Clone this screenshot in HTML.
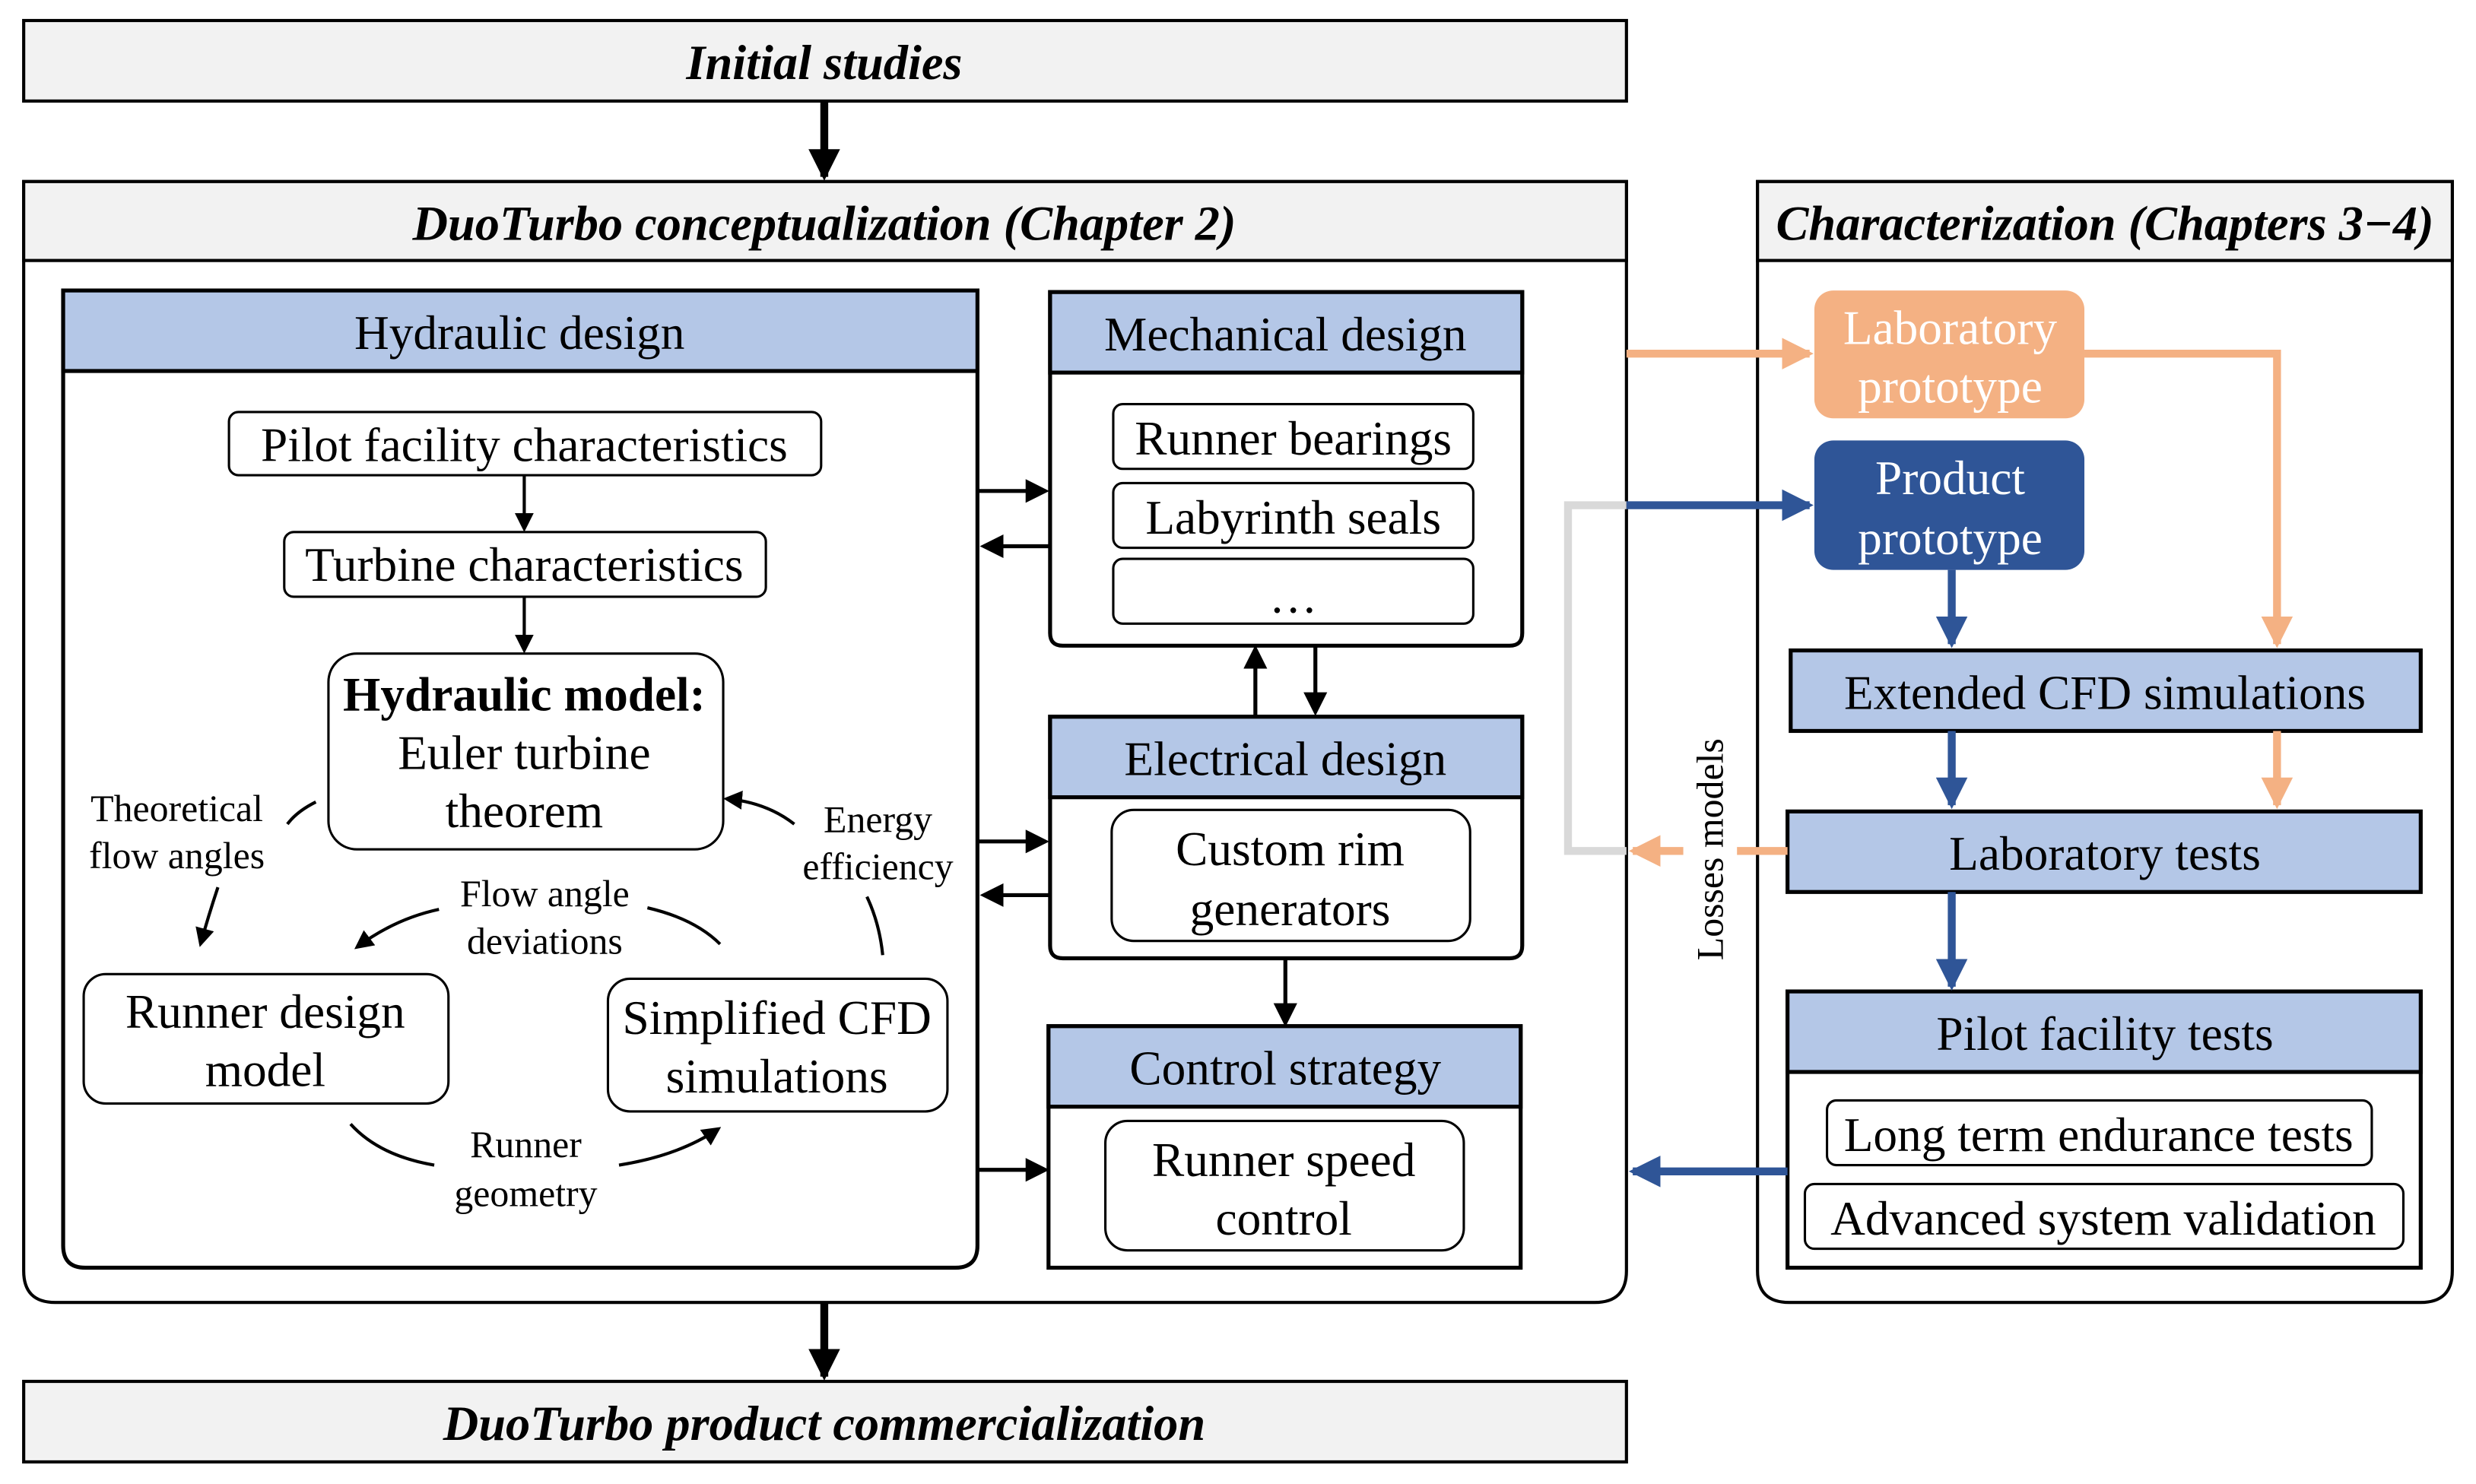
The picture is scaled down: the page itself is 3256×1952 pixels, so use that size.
<!DOCTYPE html>
<html><head><meta charset="utf-8"><style>
html,body{margin:0;padding:0;background:#fff}
svg{display:block}
text{font-family:"Liberation Serif","Times New Roman",serif;fill:#000}
</style></head><body>
<svg width="3256" height="1952" viewBox="0 0 1568 940" preserveAspectRatio="none" xmlns="http://www.w3.org/2000/svg" font-family="Liberation Serif, serif">
<defs>
<marker id="ab" markerWidth="6" markerHeight="6" refX="5" refY="3" orient="auto" markerUnits="strokeWidth"><path d="M0,0 L6,3 L0,6 z" fill="#000"/></marker>
<marker id="abt" markerWidth="4" markerHeight="4" refX="3.5" refY="2" orient="auto" markerUnits="strokeWidth"><path d="M0,0 L4,2 L0,4 z" fill="#000"/></marker>
<marker id="ao" markerWidth="4" markerHeight="4" refX="3.5" refY="2" orient="auto" markerUnits="strokeWidth"><path d="M0,0 L4,2 L0,4 z" fill="#f4b183"/></marker>
<marker id="abl" markerWidth="4" markerHeight="4" refX="3.5" refY="2" orient="auto" markerUnits="strokeWidth"><path d="M0,0 L4,2 L0,4 z" fill="#2f5597"/></marker>
</defs>

<rect x="15" y="13" width="1015" height="51" fill="#f2f2f2" stroke="#000" stroke-width="2"/>
<text x="522" y="50" font-size="31" font-style="italic" font-weight="bold" text-anchor="middle">Initial studies</text>
<line x1="522" y1="64" x2="522" y2="112" stroke="#000" stroke-width="5" marker-end="url(#abt)"/>

<path d="M15,115 H1030 V805 Q1030,825 1010,825 H35 Q15,825 15,805 Z" fill="#fff" stroke="#000" stroke-width="2"/>
<rect x="15" y="115" width="1015" height="50" fill="#f2f2f2" stroke="#000" stroke-width="2"/>
<text x="522" y="152" font-size="31" font-style="italic" font-weight="bold" text-anchor="middle">DuoTurbo conceptualization (Chapter 2)</text>

<line x1="522" y1="825" x2="522" y2="872" stroke="#000" stroke-width="5" marker-end="url(#abt)"/>
<rect x="15" y="875" width="1015" height="51" fill="#f2f2f2" stroke="#000" stroke-width="2"/>
<text x="522" y="912" font-size="31" font-style="italic" font-weight="bold" text-anchor="middle">DuoTurbo product commercialization</text>

<path d="M1113,115 H1553 V805 Q1553,825 1533,825 H1133 Q1113,825 1113,805 Z" fill="#fff" stroke="#000" stroke-width="2"/>
<rect x="1113" y="115" width="440" height="50" fill="#f2f2f2" stroke="#000" stroke-width="2"/>
<text x="1333" y="152" font-size="31" font-style="italic" font-weight="bold" text-anchor="middle">Characterization (Chapters 3−4)</text>

<path d="M40,184 H619 V789 Q619,803 605,803 H54 Q40,803 40,789 Z" fill="#fff" stroke="#000" stroke-width="2.5"/>
<rect x="40" y="184" width="579" height="51" fill="#b4c7e7" stroke="#000" stroke-width="2.5"/>
<text x="329" y="221" font-size="30.5" text-anchor="middle">Hydraulic design</text>

<rect x="145" y="261" width="375" height="40" rx="6" fill="#fff" stroke="#000" stroke-width="1.5"/>
<text x="332" y="292" font-size="30.5" text-anchor="middle">Pilot facility characteristics</text>
<line x1="332" y1="301" x2="332" y2="335" stroke="#000" stroke-width="2" marker-end="url(#ab)"/>
<rect x="180" y="337" width="305" height="41" rx="6" fill="#fff" stroke="#000" stroke-width="1.5"/>
<text x="332" y="368" font-size="30.5" text-anchor="middle">Turbine characteristics</text>
<line x1="332" y1="378" x2="332" y2="412" stroke="#000" stroke-width="2" marker-end="url(#ab)"/>
<rect x="208" y="414" width="250" height="124" rx="18" fill="#fff" stroke="#000" stroke-width="1.5"/>
<text x="332" y="450" font-size="30.5" font-weight="bold" text-anchor="middle">Hydraulic model:</text>
<text x="332" y="487" font-size="30.5" text-anchor="middle">Euler turbine</text>
<text x="332" y="524" font-size="30.5" text-anchor="middle">theorem</text>

<rect x="53" y="617" width="231" height="82" rx="14" fill="#fff" stroke="#000" stroke-width="1.5"/>
<text x="168" y="651" font-size="30.5" text-anchor="middle">Runner design</text>
<text x="168" y="688" font-size="30.5" text-anchor="middle">model</text>
<rect x="385" y="620" width="215" height="84" rx="14" fill="#fff" stroke="#000" stroke-width="1.5"/>
<text x="492" y="655" font-size="30.5" text-anchor="middle">Simplified CFD</text>
<text x="492" y="692" font-size="30.5" text-anchor="middle">simulations</text>

<text x="112" y="520" font-size="24" text-anchor="middle">Theoretical</text>
<text x="112" y="550" font-size="24" text-anchor="middle">flow angles</text>
<path d="M200,508 Q188,514 182,522" fill="none" stroke="#000" stroke-width="2"/>
<path d="M138,562 Q132,580 127,598" fill="none" stroke="#000" stroke-width="2" marker-end="url(#ab)"/>
<text x="556" y="527" font-size="24" text-anchor="middle">Energy</text>
<text x="556" y="557" font-size="24" text-anchor="middle">efficiency</text>
<path d="M503,522 Q485,508 460,506" fill="none" stroke="#000" stroke-width="2" marker-end="url(#ab)"/>
<path d="M549,568 Q557,585 559,605" fill="none" stroke="#000" stroke-width="2"/>
<text x="345" y="574" font-size="24" text-anchor="middle">Flow angle</text>
<text x="345" y="604" font-size="24" text-anchor="middle">deviations</text>
<path d="M278,576 Q250,582 226,600" fill="none" stroke="#000" stroke-width="2" marker-end="url(#ab)"/>
<path d="M410,575 Q440,582 456,598" fill="none" stroke="#000" stroke-width="2"/>
<text x="333" y="733" font-size="24" text-anchor="middle">Runner</text>
<text x="333" y="764" font-size="24" text-anchor="middle">geometry</text>
<path d="M222,712 Q240,732 275,738" fill="none" stroke="#000" stroke-width="2"/>
<path d="M392,738 Q430,732 455,715" fill="none" stroke="#000" stroke-width="2" marker-end="url(#ab)"/>

<path d="M665,185 H964 V401 Q964,409 956,409 H673 Q665,409 665,401 Z" fill="#fff" stroke="#000" stroke-width="2.5"/>
<rect x="665" y="185" width="299" height="51" fill="#b4c7e7" stroke="#000" stroke-width="2.5"/>
<text x="814" y="222" font-size="30.5" text-anchor="middle">Mechanical design</text>
<rect x="705" y="256" width="228" height="41" rx="6" fill="#fff" stroke="#000" stroke-width="1.5"/>
<text x="819" y="288" font-size="30.5" text-anchor="middle">Runner bearings</text>
<rect x="705" y="306" width="228" height="41" rx="6" fill="#fff" stroke="#000" stroke-width="1.5"/>
<text x="819" y="338" font-size="30.5" text-anchor="middle">Labyrinth seals</text>
<rect x="705" y="354" width="228" height="41" rx="6" fill="#fff" stroke="#000" stroke-width="1.5"/>
<text x="819" y="388" font-size="30.5" text-anchor="middle">…</text>

<path d="M665,454 H964 V599 Q964,607 956,607 H673 Q665,607 665,599 Z" fill="#fff" stroke="#000" stroke-width="2.5"/>
<rect x="665" y="454" width="299" height="51" fill="#b4c7e7" stroke="#000" stroke-width="2.5"/>
<text x="814" y="491" font-size="30.5" text-anchor="middle">Electrical design</text>
<rect x="704" y="513" width="227" height="83" rx="14" fill="#fff" stroke="#000" stroke-width="1.5"/>
<text x="817" y="548" font-size="30.5" text-anchor="middle">Custom rim</text>
<text x="817" y="586" font-size="30.5" text-anchor="middle">generators</text>

<rect x="664" y="650" width="299" height="153" fill="#fff" stroke="#000" stroke-width="2.5"/>
<rect x="664" y="650" width="299" height="51" fill="#b4c7e7" stroke="#000" stroke-width="2.5"/>
<text x="814" y="687" font-size="30.5" text-anchor="middle">Control strategy</text>
<rect x="700" y="710" width="227" height="82" rx="14" fill="#fff" stroke="#000" stroke-width="1.5"/>
<text x="813" y="745" font-size="30.5" text-anchor="middle">Runner speed</text>
<text x="813" y="782" font-size="30.5" text-anchor="middle">control</text>

<g stroke="#000" stroke-width="2.5" fill="none">
<line x1="620" y1="311" x2="662" y2="311" marker-end="url(#ab)"/>
<line x1="664" y1="346" x2="623" y2="346" marker-end="url(#ab)"/>
<line x1="620" y1="533" x2="662" y2="533" marker-end="url(#ab)"/>
<line x1="664" y1="567" x2="623" y2="567" marker-end="url(#ab)"/>
<line x1="620" y1="741" x2="662" y2="741" marker-end="url(#ab)"/>
<line x1="795" y1="453" x2="795" y2="411" marker-end="url(#ab)"/>
<line x1="833" y1="410" x2="833" y2="451" marker-end="url(#ab)"/>
<line x1="814" y1="608" x2="814" y2="648" marker-end="url(#ab)"/>
</g>

<rect x="1149" y="184" width="171" height="81" rx="12" fill="#f4b183"/>
<text x="1235" y="218" font-size="30.5" text-anchor="middle" style="fill:#fff">Laboratory</text>
<text x="1235" y="255" font-size="30.5" text-anchor="middle" style="fill:#fff">prototype</text>
<rect x="1149" y="279" width="171" height="82" rx="12" fill="#2f5597"/>
<text x="1235" y="313" font-size="30.5" text-anchor="middle" style="fill:#fff">Product</text>
<text x="1235" y="351" font-size="30.5" text-anchor="middle" style="fill:#fff">prototype</text>

<rect x="1134" y="412" width="399" height="51" fill="#b4c7e7" stroke="#000" stroke-width="2.5"/>
<text x="1333" y="449" font-size="30.5" text-anchor="middle">Extended CFD simulations</text>
<rect x="1132" y="514" width="401" height="51" fill="#b4c7e7" stroke="#000" stroke-width="2.5"/>
<text x="1333" y="551" font-size="30.5" text-anchor="middle">Laboratory tests</text>
<rect x="1132" y="628" width="401" height="175" fill="#fff" stroke="#000" stroke-width="2.5"/>
<rect x="1132" y="628" width="401" height="51" fill="#b4c7e7" stroke="#000" stroke-width="2.5"/>
<text x="1333" y="665" font-size="30.5" text-anchor="middle">Pilot facility tests</text>
<rect x="1157" y="697" width="345" height="41" rx="6" fill="#fff" stroke="#000" stroke-width="1.5"/>
<text x="1329" y="729" font-size="30.5" text-anchor="middle">Long term endurance tests</text>
<rect x="1143" y="750" width="379" height="41" rx="6" fill="#fff" stroke="#000" stroke-width="1.5"/>
<text x="1332" y="782" font-size="30.5" text-anchor="middle">Advanced system validation</text>

<g fill="none" stroke-width="5">
<polyline points="1030,320 993,320 993,539 1030,539" stroke="#d9d9d9"/>
<line x1="1030" y1="224" x2="1146" y2="224" stroke="#f4b183" marker-end="url(#ao)"/>
<polyline points="1320,224 1442,224 1442,408" stroke="#f4b183" marker-end="url(#ao)"/>
<line x1="1442" y1="463" x2="1442" y2="510" stroke="#f4b183" marker-end="url(#ao)"/>
<line x1="1030" y1="320" x2="1146" y2="320" stroke="#2f5597" marker-end="url(#abl)"/>
<line x1="1236" y1="361" x2="1236" y2="408" stroke="#2f5597" marker-end="url(#abl)"/>
<line x1="1236" y1="463" x2="1236" y2="510" stroke="#2f5597" marker-end="url(#abl)"/>
<line x1="1236" y1="565" x2="1236" y2="625" stroke="#2f5597" marker-end="url(#abl)"/>
<line x1="1132" y1="742" x2="1034" y2="742" stroke="#2f5597" marker-end="url(#abl)"/>
<line x1="1132" y1="539" x2="1100" y2="539" stroke="#f4b183"/>
<line x1="1066" y1="539" x2="1034" y2="539" stroke="#f4b183" marker-end="url(#ao)"/>
</g>
<text transform="translate(1091,538) rotate(-90)" font-size="24" text-anchor="middle">Losses models</text>
</svg>
</body></html>
